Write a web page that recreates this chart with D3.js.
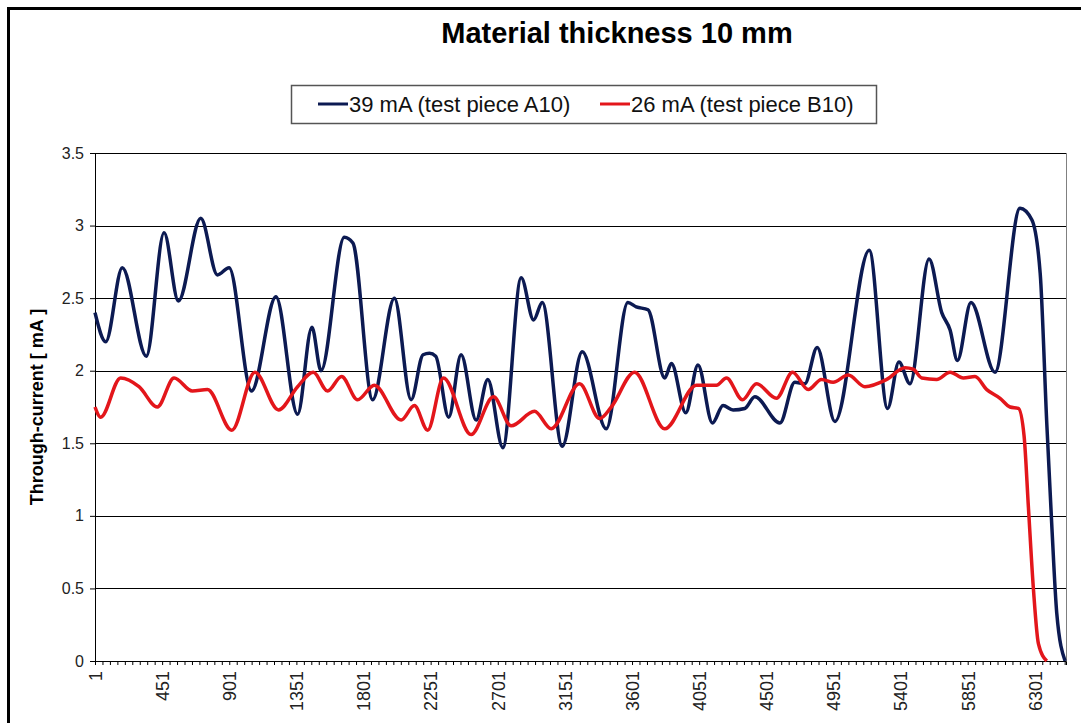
<!DOCTYPE html>
<html>
<head>
<meta charset="utf-8">
<style>
  body { margin: 0; background: #fff; }
  svg { display: block; font-family: "Liberation Sans", Arial, sans-serif; }
  .axis path { stroke: #000; }
  .axis line { stroke: #000; }
  .axis--y text { font-size: 16px; fill: #222; }
  .axis--x text { font-size: 18px; fill: #222; }
</style>
</head>
<body>
<svg width="1081" height="723"></svg>
<script src="https://cdn.jsdelivr.net/npm/d3@7"></script>
<script>
var seriesNames = ["39 mA (test piece A10)", "26 mA (test piece B10)"];
var seriesColors = ["#0c1a52", "#e3161b"];

var blueX = [1, 73, 184, 345, 464, 560, 710, 822, 900, 1050, 1214, 1359, 1455, 1516, 1672, 1730,
  1862, 2008, 2120, 2200, 2243, 2285, 2372, 2455, 2556, 2634, 2735, 2858, 2941, 2999, 3133, 3267,
  3428, 3573, 3629, 3708, 3820, 3865, 3961, 4043, 4140, 4211, 4278, 4357, 4424, 4592, 4692, 4759,
  4842, 4961, 5191, 5314, 5390, 5464, 5592, 5677, 5733, 5782, 5873, 6034, 6202, 6281, 6337, 6381,
  6414, 6448, 6504];
var blueY = [2.40, 2.20, 2.71, 2.10, 2.95, 2.48, 3.05, 2.66, 2.71, 1.86, 2.51, 1.70, 2.30, 2.00, 2.92, 2.88,
  1.80, 2.50, 1.80, 2.11, 2.12, 2.10, 1.68, 2.11, 1.66, 1.94, 1.47, 2.64, 2.35, 2.47, 1.48, 2.13,
  1.60, 2.47, 2.44, 2.42, 1.95, 2.05, 1.71, 2.04, 1.64, 1.76, 1.73, 1.74, 1.82, 1.64, 1.92, 1.91,
  2.16, 1.65, 2.83, 1.74, 2.06, 1.91, 2.77, 2.40, 2.28, 2.07, 2.47, 1.99, 3.12, 3.04, 2.67, 1.64,
  0.95, 0.33, 0];

var redX = [1, 39, 173, 296, 419, 531, 654, 755, 918, 1073, 1231, 1359, 1464, 1560, 1654, 1761,
  1873, 2053, 2142, 2231, 2337, 2522, 2672, 2791, 2947, 3059, 3249, 3384, 3462, 3618, 3820, 4033,
  4167, 4234, 4341, 4435, 4569, 4677, 4782, 4871, 4949, 5050, 5162, 5308, 5431, 5486, 5543, 5643,
  5733, 5822, 5900, 5979, 6068, 6135, 6191, 6229, 6258, 6292, 6325, 6381];
var redY = [1.75, 1.68, 1.95, 1.89, 1.75, 1.95, 1.86, 1.87, 1.59, 1.99, 1.73, 1.89, 1.99, 1.86, 1.96, 1.80,
  1.90, 1.66, 1.76, 1.59, 1.95, 1.56, 1.82, 1.62, 1.72, 1.60, 1.91, 1.67, 1.75, 1.99, 1.60, 1.90,
  1.90, 1.95, 1.80, 1.91, 1.81, 1.99, 1.87, 1.94, 1.92, 1.97, 1.89, 1.94, 2.02, 2.01, 1.95, 1.94,
  1.99, 1.95, 1.96, 1.87, 1.81, 1.75, 1.74, 1.55, 1.06, 0.49, 0.12, 0];

var yTicks = [0, 0.5, 1, 1.5, 2, 2.5, 3, 3.5];
var xLabels = [1, 451, 901, 1351, 1801, 2251, 2701, 3151, 3601, 4051, 4501, 4951, 5401, 5851, 6301];

var svg = d3.select("svg"),
    margin = {top: 153, right: 15, bottom: 62, left: 95},
    width = +svg.attr("width") - margin.left - margin.right,
    height = +svg.attr("height") - margin.top - margin.bottom;

/* frame round the whole chart, only top and left show in the picture */
svg.append("path")
    .attr("d", "M8.5,730V8.5H1090")
    .attr("fill", "none")
    .attr("stroke", "#000")
    .attr("stroke-width", 3);

var x = d3.scaleLinear().domain([1, 6510]).range([0, width]),
    y = d3.scaleLinear().domain([0, 3.5]).range([height, 0]);

var g = svg.append("g")
    .attr("transform", "translate(" + margin.left + "," + margin.top + ")");

/* horizontal grid lines */
g.append("g")
    .selectAll("line")
    .data(yTicks.slice(1))
    .enter().append("line")
      .attr("x1", 0)
      .attr("x2", width)
      .attr("y1", function(d) { return Math.round(y(d)) + 0.5; })
      .attr("y2", function(d) { return Math.round(y(d)) + 0.5; })
      .attr("stroke", "#000")
      .attr("stroke-width", 1);

/* right edge of the plot area */
g.append("line")
    .attr("x1", width + 0.5).attr("x2", width + 0.5)
    .attr("y1", 0).attr("y2", height)
    .attr("stroke", "#808080");

/* y axis */
g.append("g")
    .attr("class", "axis axis--y")
    .call(d3.axisLeft(y).tickValues(yTicks).tickSize(5).tickPadding(6).tickFormat(d3.format("")));

/* x axis: a small tick every 50 samples, a label every 450 */
var minorTicks = d3.range(1, 6510, 50);
var xAxis = g.append("g")
    .attr("class", "axis axis--x")
    .attr("transform", "translate(0," + height + ")")
    .call(d3.axisBottom(x).tickValues(minorTicks).tickSize(4).tickFormat(function(d) {
      return xLabels.indexOf(d) >= 0 ? d : "";
    }));

xAxis.selectAll("text")
    .attr("transform", "rotate(-90)")
    .attr("text-anchor", "end")
    .attr("x", -10)
    .attr("y", 0)
    .attr("dy", "0.35em");

/* the two lines, smoothed like the spreadsheet did */
var line = d3.line()
    .x(function(d) { return x(d[0]); })
    .y(function(d) { return y(d[1]); })
    .curve(d3.curveMonotoneX);

var series = [d3.zip(blueX, blueY), d3.zip(redX, redY)];

g.selectAll(".series")
  .data(series)
  .enter().append("path")
    .attr("class", "series")
    .attr("fill", "none")
    .attr("stroke", function(d, i) { return seriesColors[i]; })
    .attr("stroke-width", 3.5)
    .attr("stroke-linejoin", "round")
    .attr("d", line);

/* title */
svg.append("text")
    .attr("x", 617)
    .attr("y", 43)
    .attr("text-anchor", "middle")
    .attr("font-size", 29)
    .attr("font-weight", "bold")
    .text("Material thickness 10 mm");

/* y axis title */
svg.append("text")
    .attr("transform", "translate(43," + (margin.top + height / 2) + ") rotate(-90)")
    .attr("text-anchor", "middle")
    .attr("font-size", 18)
    .attr("font-weight", "bold")
    .text("Through-current [ mA ]");

/* legend box */
var legend = svg.append("g");
legend.append("rect")
    .attr("x", 291.5).attr("y", 85.5)
    .attr("width", 585).attr("height", 38)
    .attr("fill", "none")
    .attr("stroke", "#555")
    .attr("stroke-width", 1.5);

var legendX = [318, 600];
var item = legend.selectAll(".item")
  .data(seriesNames)
  .enter().append("g")
    .attr("class", "item")
    .attr("transform", function(d, i) { return "translate(" + legendX[i] + ",104)"; });

item.append("line")
    .attr("x1", 0).attr("x2", 30)
    .attr("stroke", function(d, i) { return seriesColors[i]; })
    .attr("stroke-width", 3);

item.append("text")
    .attr("x", 31)
    .attr("dy", "0.35em")
    .attr("font-size", 22)
    .attr("fill", "#111")
    .text(function(d) { return d; });
</script>
</body>
</html>
